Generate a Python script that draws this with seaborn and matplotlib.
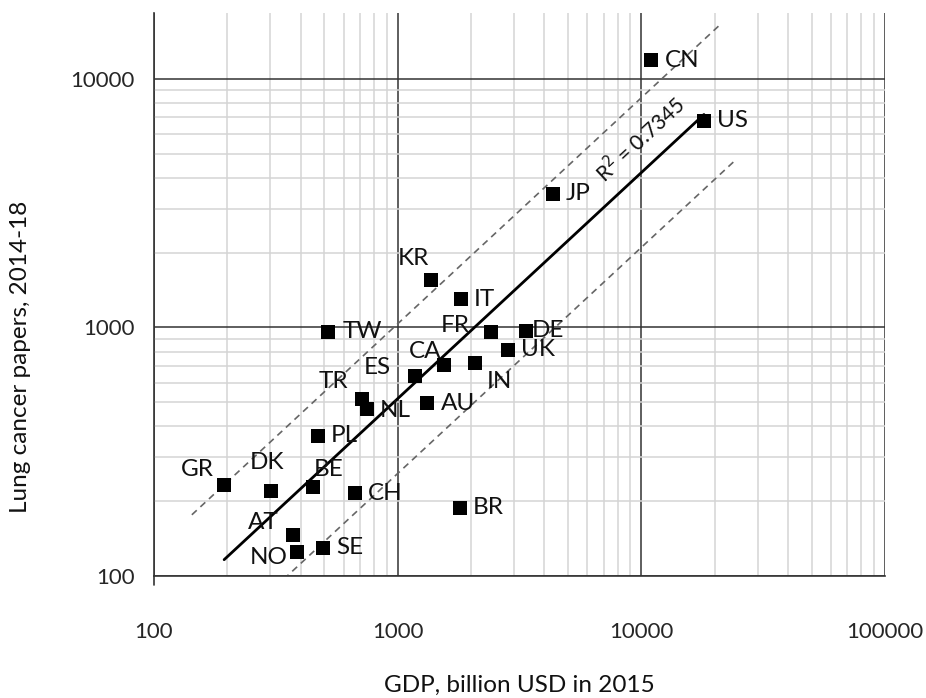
import numpy as np
import pandas as pd
import seaborn as sns
import matplotlib.pyplot as plt
from matplotlib.ticker import LogLocator, NullFormatter, FixedLocator

sns.set_style('white')
plt.rcParams['font.family'] = ['Lato', 'DejaVu Sans']

# %%
countries = ['CN', 'US', 'JP', 'KR', 'IT', 'TW', 'FR', 'DE', 'UK', 'CA', 'IN', 'ES',
             'TR', 'NL', 'AU', 'PL', 'GR', 'DK', 'BE', 'CH', 'AT', 'NO', 'SE', 'BR']
gdp = [10950, 18070, 4340, 1370, 1820, 520, 2410, 3350, 2850, 1550, 2080, 1180,
       712, 746, 1320, 472, 194, 301, 451, 666, 373, 385, 494, 1800]
papers = [11900, 6780, 3450, 1550, 1300, 961, 961, 971, 814, 705, 720, 638,
          517, 469, 495, 366, 232, 220, 227, 215, 146, 125, 130, 188]

r2_text = 'R$^2$ = 0.7345'
xlabel = 'GDP, billion USD in 2015'
ylabel = 'Lung cancer papers, 2014-18'

df = pd.DataFrame({'country': countries, 'gdp': gdp, 'papers': papers})

# label offsets in pixels (dx, dy, ha)
offsets = {
    'CN': (14, 0, 'left'), 'US': (13, 0, 'left'), 'JP': (13, 0, 'left'),
    'KR': (-18, 22, 'center'), 'IT': (13, 0, 'left'), 'TW': (14, 0, 'left'),
    'FR': (-36, 6, 'center'), 'DE': (6, 0, 'left'), 'UK': (13, 0, 'left'),
    'CA': (-19, 14, 'center'), 'IN': (24, -19, 'center'), 'ES': (-38, 8, 'center'),
    'TR': (-28, 17, 'center'), 'NL': (29, -1, 'center'), 'AU': (14, 0, 'left'),
    'PL': (13, 0, 'left'), 'GR': (-27, 16, 'center'), 'DK': (-4, 28, 'center'),
    'BE': (15, 18, 'center'), 'CH': (13, 0, 'left'), 'AT': (-30, 13, 'center'),
    'NO': (-28, -6, 'center'), 'SE': (13, 0, 'left'), 'BR': (13, 0, 'left'),
}

# %%
fig = plt.figure(figsize=(9.26, 6.98), dpi=100)
ax = fig.add_axes([154 / 926, 1 - 576 / 698, 731 / 926, 563 / 698])

ax.set_xscale('log')
ax.set_yscale('log')
ax.set_xlim(100, 100000)
ax.set_ylim(100, 18400)

# grid
ax.xaxis.set_major_locator(FixedLocator([100, 1000, 10000, 100000]))
ax.yaxis.set_major_locator(FixedLocator([100, 1000, 10000]))
ax.xaxis.set_minor_locator(LogLocator(base=10, subs=np.arange(2, 10)))
ax.yaxis.set_minor_locator(LogLocator(base=10, subs=np.arange(2, 10)))
ax.xaxis.set_minor_formatter(NullFormatter())
ax.yaxis.set_minor_formatter(NullFormatter())
ax.grid(which='minor', color='#d4d4d4', lw=1.1, zorder=0)
ax.grid(which='major', color='#333333', lw=1.1, zorder=0)
ax.set_axisbelow(True)

for s in ['top', 'right']:
    ax.spines[s].set_visible(False)
for s in ['left', 'bottom']:
    ax.spines[s].set_color('#333333')
    ax.spines[s].set_linewidth(1.2)
ax.plot([0, 0], [-0.016, 0], transform=ax.transAxes, color='#333333', lw=1.2, clip_on=False)

ax.xaxis.set_major_formatter(plt.FuncFormatter(lambda v, p: f'{int(v)}'))
ax.yaxis.set_major_formatter(plt.FuncFormatter(lambda v, p: f'{int(v)}'))
ax.tick_params(axis='x', which='major', direction='out', length=6, width=1,
               color='#333333', pad=27, labelsize=16)
ax.tick_params(axis='x', which='minor', length=0)
ax.tick_params(axis='y', which='major', direction='inout', length=10, width=1,
               color='#333333', pad=9, labelsize=16)
ax.tick_params(axis='y', which='minor', direction='in', length=5, width=1, color='#333333')

# regression in log space
lx = np.log10(df['gdp'])
ly = np.log10(df['papers'])
b, a = np.polyfit(lx, ly, 1)
fit = lambda x: 10 ** (a + b * np.log10(x))

xs = np.geomspace(df['gdp'].min(), df['gdp'].max(), 50)
ax.plot(xs, fit(xs), color='black', lw=2, zorder=2)
xu = np.geomspace(143, 20800, 50)
ax.plot(xu, 2 * fit(xu), color='#666666', lw=1.2, ls=(0, (4, 3)), zorder=2)
xl = np.geomspace(140, 24300, 50)
ax.plot(xl, fit(xl) / 2, color='#666666', lw=1.2, ls=(0, (4, 3)), zorder=2)

sns.scatterplot(data=df, x='gdp', y='papers', marker='s', s=95, color='black',
                edgecolor='black', linewidth=0, ax=ax, zorder=3)

for c, x, y in zip(countries, gdp, papers):
    dx, dy, ha = offsets[c]
    ax.annotate(c, (x, y), xytext=(dx, dy), textcoords='offset pixels',
                ha=ha, va='center', fontsize=17.5, color='#111111')

ax.text(9900, 5700, r2_text, rotation=43, ha='center', va='center',
        fontsize=15, color='#111111', rotation_mode='anchor')

ax.set_xlabel(xlabel, fontsize=17.5, color='#111111')
ax.set_ylabel(ylabel, fontsize=17.5, color='#111111')
ax.xaxis.set_label_coords(0.5, -0.176)
ax.yaxis.set_label_coords(-0.168, 0.39)

fig.savefig('out.png', dpi=100, facecolor='white')
